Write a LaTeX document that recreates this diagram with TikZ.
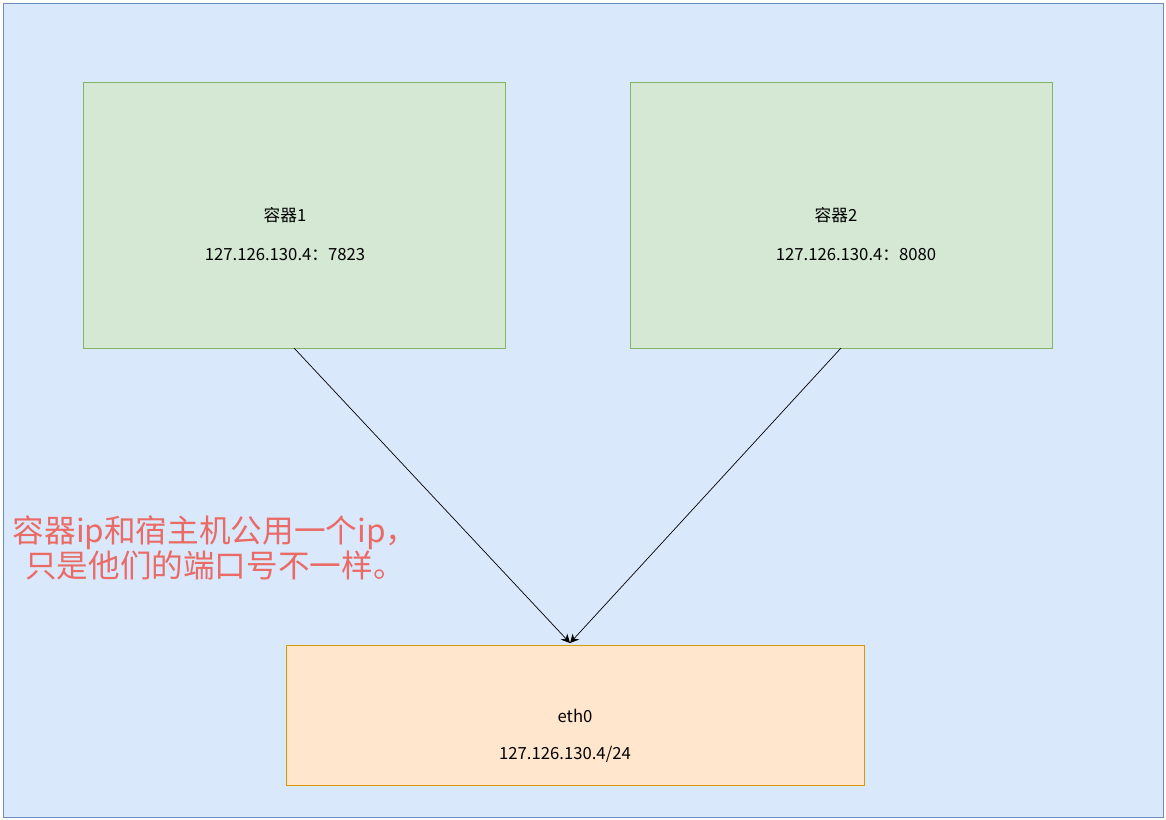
\documentclass[tikz,border=0pt]{standalone}
\usepackage{fontspec}
\setmainfont{Noto Sans CJK SC}
\usetikzlibrary{arrows.meta}
\definecolor{HostBlue}{HTML}{DAE8FC}
\definecolor{HostEdge}{HTML}{6C8EBF}
\definecolor{BoxGreen}{HTML}{D5E8D4}
\definecolor{EdgeGreen}{HTML}{82B366}
\definecolor{BoxOrange}{HTML}{FFE6CC}
\definecolor{EdgeOrange}{HTML}{D79B00}
\definecolor{NoteRed}{HTML}{EA6B66}
\tikzset{
  ctbox/.style={draw=EdgeGreen, fill=BoxGreen},
  nicbox/.style={draw=EdgeOrange, fill=BoxOrange},
  lbl/.style={font=\fontsize{9.5}{11}\selectfont},
}
\begin{document}
\begin{tikzpicture}[x=0.02cm,y=-0.02cm]
				\useasboundingbox (0,0) rectangle (1166,820);
				\draw[draw=HostEdge, fill=HostBlue] (3,3) rectangle (1163,817);

				\filldraw[ctbox] (83,82) rectangle (505,348);
				\filldraw[ctbox] (630,82) rectangle (1052,348);
				\filldraw[nicbox] (286,645) rectangle (864,785);
				\coordinate (c1) at (294,348);
				\coordinate (c2) at (841,348);
				\coordinate (tip) at (570,643);

				\node[lbl] (n1) at (285,215) {容器1};
				\node[lbl] (ip1) at (285,255) {127.126.130.4：7823};
				\node[lbl] (n2) at (836,215) {容器2};
				\node[lbl] (ip2) at (856,255) {127.126.130.4：8080};
				\node[lbl] (eth) at (575,716) {eth0};
				\node[lbl] (ethip) at (565,754) {127.126.130.4/24};

				% links to eth0
				\foreach \src in {c1, c2} {\draw[-{Stealth[length=5pt,width=5pt]}] (\src) -- (tip);}

				% note
				\node[text=NoteRed, font=\fontsize{18}{20}\selectfont, align=center] (note) at (215,548) {容器ip和宿主机公用一个ip，\\只是他们的端口号不一样。};
			\end{tikzpicture}
\end{document}
